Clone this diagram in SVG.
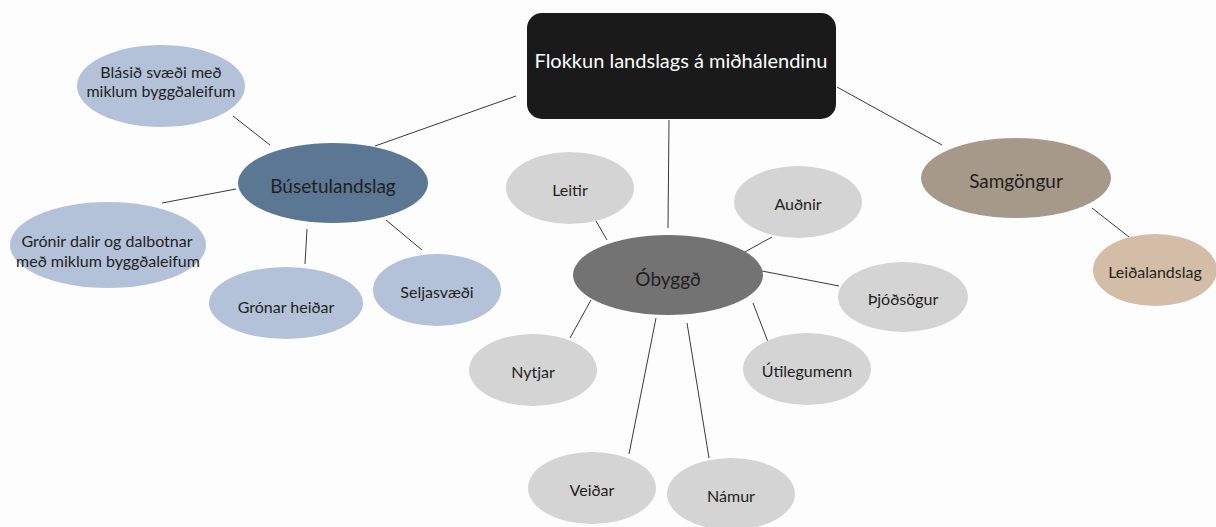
<svg xmlns="http://www.w3.org/2000/svg" width="1216" height="527" viewBox="0 0 1216 527">
  <style>
    text { font-family: Lato, "Open Sans", "Liberation Sans", sans-serif; fill: #231f20; text-anchor: middle; dominant-baseline: central; }
    .lg { font-size: 19px; }
    .sm { font-size: 16px; }
    .title { font-size: 20px; fill: #ffffff; }
    .edge { stroke: #3a3a3a; stroke-width: 1; fill: none; }
    .bus { fill: #5b7793; }
    .bus-l { fill: #b3c1d9; }
    .oby { fill: #737373; }
    .oby-l { fill: #d4d4d4; }
    .sam { fill: #a59a89; }
    .sam-l { fill: #d3bda7; }
  </style>
  <rect width="1216" height="527" fill="#fdfdfd"/>

  <g id="connectors">
    <line class="edge" x1="516" y1="96" x2="375" y2="146"/>
    <line class="edge" x1="233" y1="116" x2="270" y2="145"/>
    <line class="edge" x1="162" y1="203" x2="236" y2="189"/>
    <line class="edge" x1="307" y1="229" x2="305" y2="264"/>
    <line class="edge" x1="386" y1="220" x2="422" y2="250"/>
    <line class="edge" x1="669" y1="120" x2="668" y2="228"/>
    <line class="edge" x1="596" y1="221" x2="607" y2="240"/>
    <line class="edge" x1="772" y1="237" x2="743" y2="253"/>
    <line class="edge" x1="762" y1="271" x2="839" y2="286"/>
    <line class="edge" x1="591" y1="300" x2="570" y2="338"/>
    <line class="edge" x1="656" y1="318" x2="629" y2="454"/>
    <line class="edge" x1="687" y1="323" x2="709" y2="458"/>
    <line class="edge" x1="753" y1="303" x2="768" y2="342"/>
    <line class="edge" x1="837" y1="87" x2="942" y2="145"/>
    <line class="edge" x1="1092" y1="208" x2="1129" y2="237"/>
  </g>

  <g id="title">
    <rect x="527" y="13" width="309" height="106" rx="15" fill="#1a1a1a"/>
    <text class="title" x="681" y="60">Flokkun landslags á miðhálendinu</text>
  </g>

  <g id="busetulandslag">
    <ellipse class="bus" cx="333" cy="183" rx="95" ry="40"/>
    <text class="lg" x="333" y="185">Búsetulandslag</text>
  </g>
  <g id="blasid">
    <ellipse class="bus-l" cx="161" cy="86" rx="84" ry="41"/>
    <text class="sm" x="161" y="71">Blásið svæði með</text>
    <text class="sm" x="161" y="90">miklum byggðaleifum</text>
  </g>
  <g id="gronir-dalir">
    <ellipse class="bus-l" cx="108" cy="245" rx="98" ry="43"/>
    <text class="sm" x="107" y="240">Grónir dalir og dalbotnar</text>
    <text class="sm" x="108" y="260">með miklum byggðaleifum</text>
  </g>
  <g id="gronar-heidar">
    <ellipse class="bus-l" cx="286" cy="303" rx="77" ry="36"/>
    <text class="sm" x="286" y="306">Grónar heiðar</text>
  </g>
  <g id="seljasvaedi">
    <ellipse class="bus-l" cx="437" cy="290" rx="64" ry="36"/>
    <text class="sm" x="437" y="291">Seljasvæði</text>
  </g>

  <g id="obyggd">
    <ellipse class="oby" cx="668" cy="275" rx="95" ry="40"/>
    <text class="lg" x="668" y="278">Óbyggð</text>
  </g>
  <g id="leitir">
    <ellipse class="oby-l" cx="570" cy="188" rx="64" ry="36"/>
    <text class="sm" x="570" y="189">Leitir</text>
  </g>
  <g id="audnir">
    <ellipse class="oby-l" cx="798" cy="202" rx="64" ry="36"/>
    <text class="sm" x="798" y="203">Auðnir</text>
  </g>
  <g id="thjodsogur">
    <ellipse class="oby-l" cx="903" cy="297" rx="65" ry="35"/>
    <text class="sm" x="903" y="298">Þjóðsögur</text>
  </g>
  <g id="nytjar">
    <ellipse class="oby-l" cx="533" cy="370" rx="64" ry="36"/>
    <text class="sm" x="533" y="371">Nytjar</text>
  </g>
  <g id="utilegumenn">
    <ellipse class="oby-l" cx="807" cy="369" rx="64" ry="36"/>
    <text class="sm" x="807" y="370">Útilegumenn</text>
  </g>
  <g id="veidar">
    <ellipse class="oby-l" cx="592" cy="488" rx="64" ry="36"/>
    <text class="sm" x="592" y="489">Veiðar</text>
  </g>
  <g id="namur">
    <ellipse class="oby-l" cx="731" cy="494" rx="64" ry="36"/>
    <text class="sm" x="731" y="495">Námur</text>
  </g>

  <g id="samgongur">
    <ellipse class="sam" cx="1016" cy="178" rx="95" ry="40"/>
    <text class="lg" x="1016" y="180">Samgöngur</text>
  </g>
  <g id="leidalandslag">
    <ellipse class="sam-l" cx="1155" cy="270" rx="62" ry="36"/>
    <text class="sm" x="1155" y="271">Leiðalandslag</text>
  </g>
</svg>
